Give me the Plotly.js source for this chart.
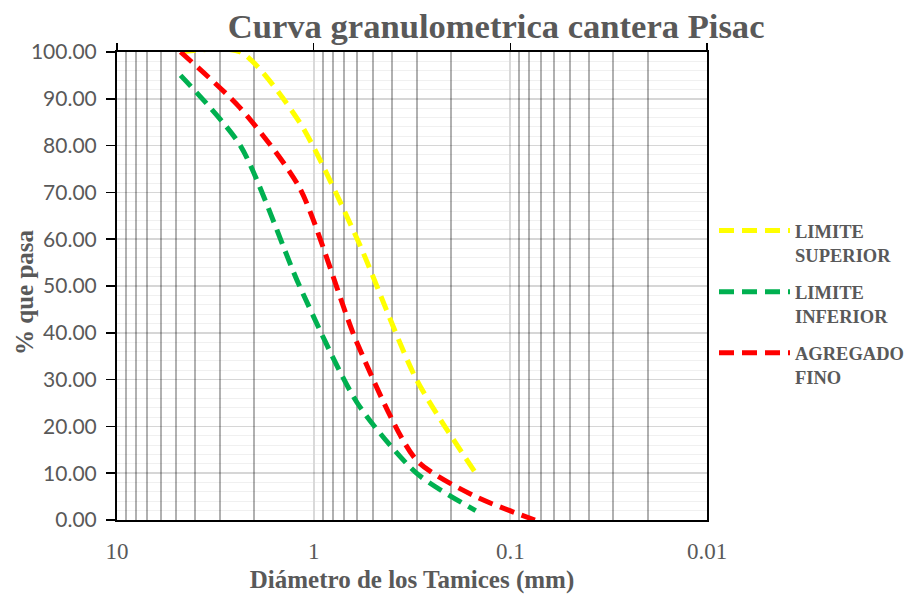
<!DOCTYPE html>
<html>
<head>
<meta charset="utf-8">
<script src="https://cdn.plot.ly/plotly-3.0.1.min.js"></script>
<style>html,body{margin:0;padding:0;background:#fff}#chart{width:907px;height:595px}</style>
</head>
<body>
<div id="chart"></div>
<script>
// Sieve openings (mm)
var sieveMM = [4.75, 2.36, 1.18, 0.6, 0.3, 0.15, 0.075];
// % passing
var limiteSuperior = [100, 100, 85, 60, 30, 10];
var limiteInferior = [95, 80, 50, 25, 10, 2];
var agregadoFino = [100, 88, 71, 37.7, 12.8, 5, 0];

var seriesNames = ["LIMITE<br>SUPERIOR", "LIMITE<br>INFERIOR", "AGREGADO<br>FINO"];
var xTickVals = [10, 1, 0.1, 0.01];
var xTickText = ["10", "1", "0.1", "0.01"];

var gray = "#595959";
var serif = "Liberation Serif, Times New Roman, serif";

function curve(y, name, color, grp) {
  return {
    x: sieveMM.slice(0, y.length),
    y: y,
    name: name,
    legendgroup: grp,
    type: "scatter",
    mode: "lines",
    line: {color: color, width: 5, dash: "15px,8px", shape: "spline", smoothing: 0.7}
  };
}

var data = [
  curve(limiteSuperior, seriesNames[0], "#FFFF00", "g1"),
  curve(limiteInferior, seriesNames[1], "#00B050", "g2"),
  curve(agregadoFino, seriesNames[2], "#FF0000", "g3"),
  {x: [1], y: [50], xaxis: "x2", yaxis: "y", type: "scatter", mode: "markers",
   marker: {opacity: 0}, showlegend: false, hoverinfo: "skip"}
];

var layout = {
  width: 907, height: 595,
  margin: {l: 117, r: 200, t: 52, b: 75, autoexpand: false},
  paper_bgcolor: "#ffffff",
  plot_bgcolor: "#ffffff",
  showlegend: true,
  title: {
    text: "Curva granulometrica cantera Pisac",
    font: {family: serif, size: 34.6, color: gray, weight: "bold"},
    xref: "container", x: 0.547, xanchor: "center",
    yref: "container", y: 0.956, yanchor: "middle"
  },
  xaxis: {
    type: "log",
    range: [1, -2],
    tickvals: xTickVals,
    ticktext: xTickText,
    ticks: "",
    ticklabelstandoff: 9,
    tickfont: {family: serif, size: 23, color: gray},
    showgrid: true, gridcolor: "#d9d9d9", gridwidth: 2,
    minor: {dtick: "D1", showgrid: true, gridcolor: "#b0b0b0", gridwidth: 2, ticks: ""},
    showline: true, linecolor: "#000000", linewidth: 2, mirror: true,
    zeroline: false,
    title: {text: "Diámetro de los Tamices (mm)", font: {family: serif, size: 25, color: gray, weight: "bold"}, standoff: 8}
  },
  xaxis2: {
    type: "log", range: [1, -2], overlaying: "x", side: "top", anchor: "y",
    tickvals: xTickVals, showticklabels: false, ticks: "outside", ticklen: 8,
    tickwidth: 1.5, tickcolor: "#000000", showgrid: false, showline: false, zeroline: false
  },
  yaxis: {
    range: [0, 100],
    dtick: 10, tick0: 0,
    tickformat: ".2f",
    ticks: "outside", ticklen: 9, tickwidth: 1.5, tickcolor: "#000000",
    ticklabelstandoff: 5,
    tickfont: {family: "Lato, Liberation Sans, sans-serif", size: 21, color: gray},
    showgrid: true, gridcolor: "rgba(0,0,0,0.16)", gridwidth: 1.5,
    minor: {dtick: 2, showgrid: true, gridcolor: "rgba(0,0,0,0.06)", gridwidth: 1},
    showline: true, linecolor: "#000000", linewidth: 2, mirror: true,
    zeroline: false
  },
  annotations: [{
    text: "% que pasa", textangle: -90,
    xref: "paper", x: -(117 - 24) / 590, xanchor: "center",
    yref: "paper", y: (520 - 292) / 468, yanchor: "middle",
    showarrow: false,
    font: {family: serif, size: 25, color: gray, weight: "bold"}
  }],
  legend: {
    x: (714 - 117) / 590, xanchor: "left",
    y: 0.658, yanchor: "top",
    valign: "top",
    itemwidth: 71,
    traceorder: "grouped",
    tracegroupgap: 10,
    font: {family: serif, size: 18.5, color: gray, weight: "bold"},
    bgcolor: "rgba(0,0,0,0)"
  }
};

Plotly.newPlot("chart", data, layout, {displayModeBar: false, staticPlot: true});
</script>
</body>
</html>
